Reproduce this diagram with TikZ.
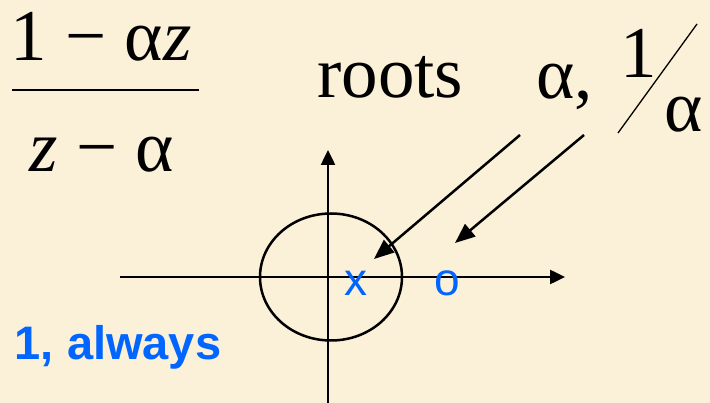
\documentclass[tikz,border=0pt]{standalone}
\usepackage{fontspec}
\setmainfont{Liberation Serif}
\newfontfamily\arialfont{Liberation Sans}
\usetikzlibrary{arrows.meta}
\definecolor{bgc}{RGB}{251,240,216}
\definecolor{blu}{RGB}{0,102,255}
\tikzset{
  big/.style={inner sep=0pt, font=\fontsize{73}{80}\selectfont, text=black},
  sans/.style={inner sep=0pt, font=\arialfont\fontsize{46}{50}\selectfont, text=blu},
  note/.style={inner sep=0pt, font=\arialfont\bfseries\fontsize{47}{52}\selectfont, text=blu},
  axis/.style={line width=2.5pt, -{Triangle[length=15pt,width=14pt]}},
  ptr/.style={line width=2.5pt, -{Triangle[length=20pt,width=16pt]}},
}
\begin{document}
\begin{tikzpicture}[x=1pt,y=-1pt]
\fill[bgc] (0,0) rectangle (710,403);
\useasboundingbox (0,0) rectangle (710,403);
% fraction
\node[big, anchor=base] (num) at (101,61) {1 − α\textit{z}};
\node[big, anchor=base] (den) at (102,172) {\textit{z} − α};
\coordinate (barL) at (12,90);
\coordinate (barR) at (199,90);
\draw[line width=1.7pt] (barL) -- (barR);
% roots label
\node[big, anchor=base west] (roots) at (317,98) {roots};
\node[big, anchor=base west] (alpha) at (536,99) {α,};
\node[big, anchor=base] (one) at (639,78) {1};
\node[big, anchor=base west] (alpha2) at (664,132) {α};
\coordinate (slA) at (618,133);
\coordinate (slB) at (697,24);
\draw[line width=1.3pt] (slA) -- (slB);
% axes
\coordinate (hl) at (120,277);
\coordinate (hr) at (565,277);
\coordinate (vb) at (328,405);
\coordinate (vt) at (328,150);
\draw[axis] (hl) -- (hr);
\draw[axis] (vb) -- (vt);
% unit circle
\coordinate (cc) at (331,277);
\draw[line width=2.5pt] (cc) ellipse [x radius=71, y radius=63.5];
% roots markers
\node[sans, anchor=base] (xm) at (356,296) {x};
\node[sans, anchor=base] (om) at (447,296) {o};
% pointer arrows
\coordinate (p1s) at (520,135);
\coordinate (p1e) at (374,259);
\coordinate (p2s) at (584,135);
\coordinate (p2e) at (455,243);
\draw[ptr] (p1s) -- (p1e);
\draw[ptr] (p2s) -- (p2e);
% note
\node[note, anchor=base] (always) at (118,360) {1, always};
\end{tikzpicture}
\end{document}
